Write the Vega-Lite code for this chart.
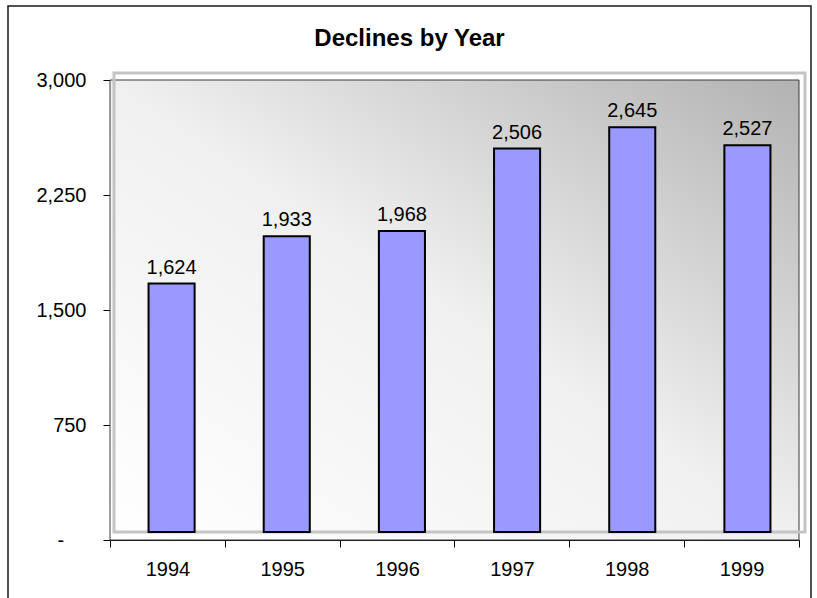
{
  "$schema": "https://vega.github.io/schema/vega-lite/v6.json",
  "width": 803,
  "height": 600,
  "autosize": {"type": "none"},
  "padding": {"left": 8, "top": 6, "right": 6, "bottom": 0},
  "background": "white",
  "title": {
    "text": "Declines by Year",
    "font": "Liberation Sans",
    "fontSize": 24,
    "fontWeight": "bold",
    "color": "black",
    "anchor": "middle",
    "frame": "group",
    "baseline": "alphabetic",
    "offset": -42,
    "dy": 22
  },
  "config": {
    "view": {"stroke": "#1a1a1a", "strokeWidth": 1.5},
    "font": "Liberation Sans"
  },
  "data": {
    "values": [
      {"year": "1994", "value": 1624},
      {"year": "1995", "value": 1933},
      {"year": "1996", "value": 1968},
      {"year": "1997", "value": 2506},
      {"year": "1998", "value": 2645},
      {"year": "1999", "value": 2527}
    ]
  },
  "layer": [
    {
      "data": {"values": [{}]},
      "mark": {
        "type": "rect",
        "fill": {
          "gradient": "linear",
          "x1": 0, "y1": 1, "x2": 1, "y2": 0,
          "stops": [
            {"offset": 0, "color": "#ffffff"},
            {"offset": 0.5, "color": "#f0f0f0"},
            {"offset": 1, "color": "#b2b2b2"}
          ]
        },
        "stroke": "#3a3a3a",
        "strokeWidth": 1
      },
      "encoding": {
        "x": {"datum": 0, "type": "quantitative", "scale": {"domain": [0, 1], "range": [102, 791]}, "axis": null},
        "x2": {"datum": 1},
        "y": {"datum": 0, "type": "quantitative", "scale": {"domain": [0, 3000], "range": [534, 74]}, "axis": null},
        "y2": {"datum": 3000}
      }
    },
    {
      "data": {"values": [{}]},
      "mark": {"type": "rect", "fill": null, "stroke": "#c4c4c4", "strokeWidth": 3},
      "encoding": {
        "x": {"datum": 0, "type": "quantitative", "scale": {"domain": [0, 1], "range": [106, 797]}, "axis": null},
        "x2": {"datum": 1},
        "y": {"datum": 0, "type": "quantitative", "scale": {"domain": [0, 3000], "range": [526, 67]}, "axis": null},
        "y2": {"datum": 3000}
      }
    },
    {
      "mark": {"type": "bar", "fill": "#9999ff", "stroke": "black", "strokeWidth": 2},
      "encoding": {
        "x": {"field": "year", "type": "ordinal", "scale": {"range": [106, 797], "paddingInner": 0.6, "paddingOuter": 0.3}, "axis": null},
        "y": {"field": "value", "type": "quantitative", "scale": {"domain": [0, 3000], "range": [526, 67]}, "axis": null}
      }
    },
    {
      "mark": {"type": "text", "baseline": "alphabetic", "dy": -10, "fontSize": 20, "color": "black"},
      "encoding": {
        "x": {"field": "year", "type": "ordinal", "scale": {"range": [106, 797], "paddingInner": 0.6, "paddingOuter": 0.3}, "axis": null},
        "y": {"field": "value", "type": "quantitative", "scale": {"domain": [0, 3000], "range": [526, 67]}, "axis": null},
        "text": {"field": "value", "type": "quantitative", "format": ","}
      }
    },
    {
      "mark": {"type": "point", "opacity": 0},
      "encoding": {
        "x": {
          "field": "year", "type": "ordinal",
          "scale": {"range": [102, 791], "paddingInner": 0, "paddingOuter": 0},
          "axis": {
            "orient": "bottom", "offset": -66, "title": null,
            "domainColor": "black", "domainWidth": 1,
            "tickColor": "black", "tickSize": 7, "tickBand": "extent",
            "labelFontSize": 20, "labelColor": "black", "labelPadding": 12,
            "labelAngle": 0, "grid": false
          }
        },
        "y": {
          "field": "value", "type": "quantitative",
          "scale": {"domain": [0, 3000], "range": [534, 74]},
          "axis": {
            "orient": "left", "offset": -102, "title": null,
            "values": [0, 750, 1500, 2250, 3000],
            "labelExpr": "datum.value == 0 ? '-\u00a0\u00a0\u00a0\u00a0\u200b' : format(datum.value, ',')",
            "domainColor": "black", "domainWidth": 1,
            "tickColor": "black", "tickSize": 7,
            "labelFontSize": 20, "labelColor": "black", "labelPadding": 17,
            "grid": false
          }
        }
      }
    }
  ],
  "resolve": {"scale": {"x": "independent", "y": "independent"}}
}
